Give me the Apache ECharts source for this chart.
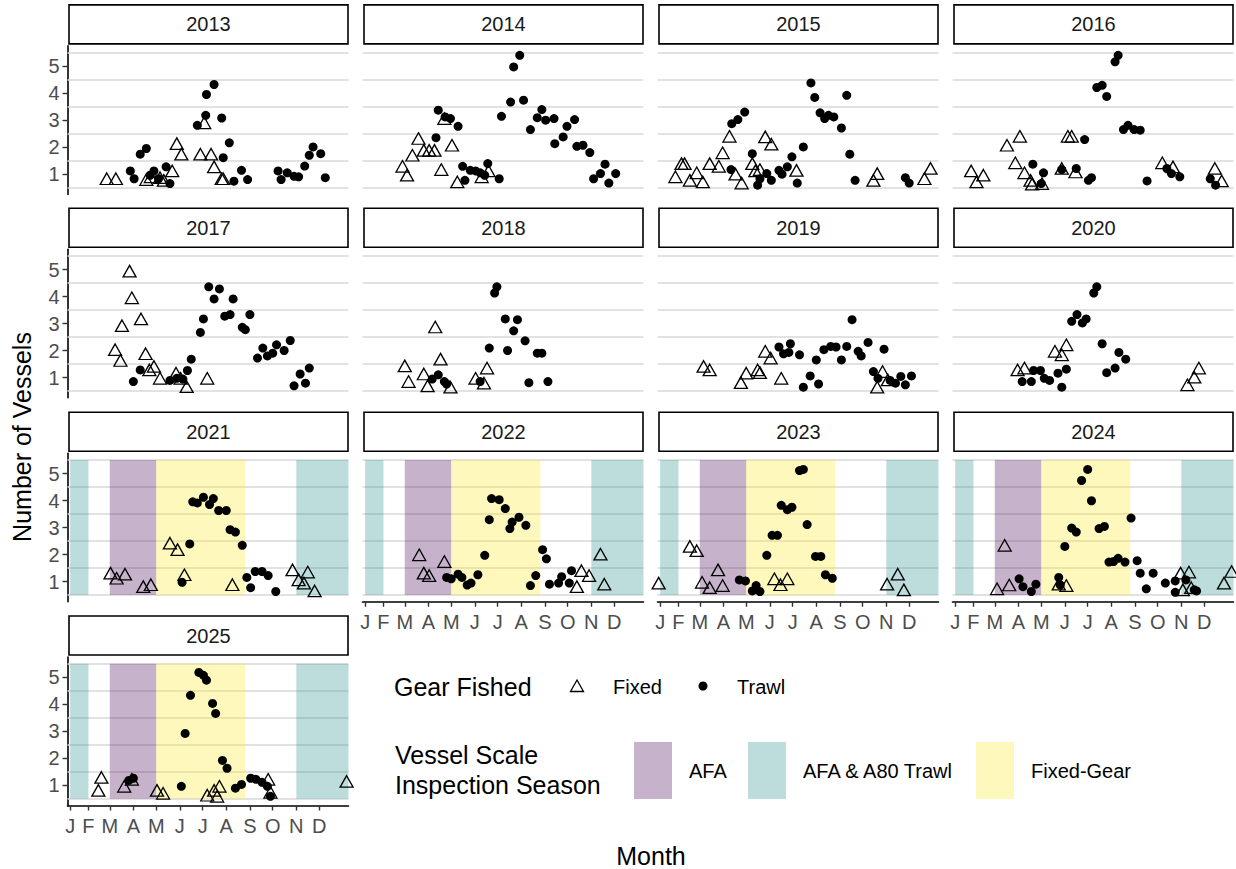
<!DOCTYPE html>
<html><head><meta charset="utf-8">
<script src="https://cdn.jsdelivr.net/npm/echarts@6/dist/echarts.min.js"></script>
<style>html,body{margin:0;padding:0;background:#fff}#c{width:1236px;height:869px}</style>
</head><body><div id="c"></div>
<script>
// ---- data: [day of year, number of vessels (jittered)] ----
const years = [2013,2014,2015,2016,2017,2018,2019,2020,2021,2022,2023,2024,2025];

const fixed_2013 = [[56,0.83],[68,0.83],[108,0.80],[114,0.90],[126,0.87],[131,0.77],[142,1.12],[148,2.13],[154,1.74],[179,1.74],[193,1.74],[184,2.90],[197,1.27],[207,0.83],[209,0.83]];
const trawl_2013 = [[87,1.12],[92,0.83],[100,1.74],[108,1.95],[113,0.96],[118,1.12],[124,0.83],[134,1.27],[139,0.65],[175,2.81],[186,3.18],[187,3.95],[197,4.32],[207,3.08],[209,1.61],[217,2.16],[223,0.74],[233,1.14],[241,0.80],[281,1.12],[285,0.80],[293,1.05],[302,0.92],[308,0.90],[316,1.30],[322,1.70],[327,2.01],[337,1.76],[343,0.87]];

const fixed_2014 = [[57,1.29],[63,0.96],[70,1.70],[78,2.32],[85,1.88],[92,1.88],[99,1.88],[108,1.17],[112,3.06],[122,2.07],[129,0.71],[161,0.90],[170,1.12]];
const trawl_2014 = [[101,2.35],[104,3.37],[113,3.12],[120,3.06],[130,2.77],[136,1.29],[139,0.77],[146,1.14],[153,1.12],[159,1.05],[165,0.96],[169,1.39],[184,0.83],[187,3.14],[199,3.67],[203,4.97],[211,5.40],[216,3.74],[225,2.65],[234,3.09],[240,3.39],[245,3.00],[256,3.06],[257,2.13],[268,2.38],[273,2.77],[283,3.02],[286,2.03],[294,2.07],[303,1.80],[308,0.83],[317,1.02],[323,1.37],[328,0.67],[337,1.02]];

const fixed_2015 = [[28,0.90],[36,1.39],[40,1.39],[47,0.77],[56,1.05],[64,0.71],[73,1.39],[85,1.29],[90,1.79],[99,2.40],[107,1.00],[115,0.67],[129,1.39],[133,1.12],[139,1.17],[146,2.38],[154,2.11],[187,1.14],[288,0.77],[293,1.02],[355,0.83],[363,1.21]];
const trawl_2015 = [[102,2.87],[110,3.02],[119,3.30],[101,1.17],[129,1.76],[136,0.59],[139,0.83],[148,1.02],[154,0.77],[164,1.14],[168,1.00],[175,1.27],[181,1.64],[188,0.67],[196,2.01],[206,4.38],[211,3.84],[218,3.27],[224,3.06],[229,3.18],[236,3.12],[246,2.71],[253,3.92],[257,1.74],[264,0.77],[330,0.87],[335,0.67]];

const fixed_2016 = [[29,1.12],[36,0.71],[45,0.96],[76,2.07],[93,2.40],[87,1.42],[99,1.05],[107,0.77],[109,0.63],[122,0.65],[148,1.21],[156,2.40],[161,2.40],[166,1.08],[280,1.42],[294,1.27],[349,1.21],[358,0.75]];
const trawl_2016 = [[110,1.37],[124,1.05],[121,0.65],[148,1.17],[167,1.21],[178,2.28],[183,0.77],[187,0.87],[194,4.21],[201,4.29],[207,3.88],[218,5.16],[222,5.40],[229,2.65],[235,2.81],[243,2.65],[251,2.63],[260,0.75],[286,1.21],[292,1.02],[303,0.90],[343,0.83],[350,0.59]];

const fixed_2017 = [[86,4.94],[89,3.95],[76,2.92],[101,3.17],[67,2.03],[74,1.63],[107,1.88],[118,1.41],[112,1.28],[126,0.97],[147,1.16],[153,0.97],[161,0.66],[188,0.97]];
const trawl_2017 = [[91,0.85],[100,1.28],[139,0.89],[148,0.97],[156,0.94],[162,1.26],[167,1.68],[179,2.67],[183,3.17],[190,4.36],[197,3.91],[204,4.28],[211,3.27],[218,3.33],[222,3.91],[234,2.86],[238,2.77],[244,3.33],[254,1.72],[261,2.09],[267,1.80],[274,1.90],[279,2.21],[289,2.00],[297,2.37],[302,0.69],[310,1.13],[317,0.79],[322,1.35]];

const fixed_2018 = [[60,1.43],[65,0.85],[85,1.13],[90,0.69],[100,2.87],[107,1.68],[120,0.64],[153,0.97],[164,0.79],[168,1.35]];
const trawl_2018 = [[96,0.94],[104,1.10],[112,0.85],[115,0.76],[159,0.85],[171,2.09],[178,4.13],[181,4.36],[192,3.17],[195,2.00],[203,2.73],[208,3.14],[218,2.36],[223,0.81],[234,1.90],[240,1.90],[248,0.85]];

const fixed_2019 = [[65,1.41],[73,1.28],[114,0.81],[121,1.16],[136,1.28],[139,1.18],[146,1.97],[153,1.72],[167,0.97],[293,0.64],[300,1.22],[307,0.91]];
const trawl_2019 = [[164,2.13],[170,1.88],[179,2.25],[177,1.93],[191,1.84],[196,0.64],[205,1.06],[213,1.65],[216,0.76],[223,2.03],[232,2.15],[239,2.13],[246,1.65],[253,2.15],[260,3.14],[268,1.97],[272,1.80],[281,2.30],[288,1.22],[294,0.97],[302,2.05],[310,0.89],[317,0.79],[324,1.04],[330,0.73],[338,1.06]];

const fixed_2020 = [[90,1.28],[99,1.35],[139,1.97],[148,1.84],[154,2.21],[313,0.73],[322,1.01],[328,1.35]];
const trawl_2020 = [[96,0.85],[108,0.85],[111,1.26],[120,1.26],[125,0.97],[132,0.89],[143,1.16],[148,0.64],[154,1.31],[161,3.08],[168,3.33],[175,3.02],[180,3.17],[190,4.13],[194,4.36],[201,2.25],[207,1.18],[218,1.35],[223,1.93],[232,1.68]];

const fixed_2021 = [[61,1.31],[69,1.12],[80,1.27],[104,0.81],[114,0.88],[139,2.42],[149,2.18],[158,1.25],[221,0.88],[300,1.43],[308,1.06],[315,0.94],[320,1.35],[329,0.65]];
const trawl_2021 = [[155,0.97],[165,2.39],[169,3.95],[175,3.91],[183,4.12],[191,3.85],[196,4.07],[203,3.63],[213,3.63],[218,2.92],[225,2.83],[234,2.34],[240,1.15],[245,0.77],[251,1.37],[260,1.37],[268,1.22],[278,0.63]];

const fixed_2022 = [[79,1.99],[85,1.31],[92,1.22],[112,1.74],[292,1.40],[302,1.22],[286,0.81],[317,2.01],[322,0.90]];
const trawl_2022 = [[115,1.15],[121,1.10],[130,1.27],[135,1.15],[142,0.87],[147,0.94],[156,1.25],[165,1.97],[171,3.29],[174,4.07],[184,4.03],[192,3.70],[198,2.96],[201,3.20],[210,3.38],[219,3.08],[225,0.85],[232,1.22],[241,2.18],[246,1.84],[250,0.90],[262,0.94],[266,1.18],[276,0.94],[279,1.40]];

const fixed_2023 = [[6,0.94],[47,2.30],[56,2.14],[63,0.97],[73,0.77],[84,1.43],[90,0.85],[158,1.10],[166,0.88],[175,1.10],[306,0.90],[320,1.27],[328,0.69]];
const trawl_2023 = [[112,1.06],[120,1.02],[129,0.65],[134,0.85],[139,0.63],[148,1.97],[155,2.71],[162,2.71],[167,3.82],[175,3.66],[181,3.75],[191,5.11],[196,5.15],[201,3.11],[212,1.93],[219,1.93],[225,1.25],[234,1.12]];

const fixed_2024 = [[63,0.73],[73,2.34],[79,0.87],[144,0.90],[154,0.85],[304,1.31],[315,1.35],[307,0.69],[318,0.77],[361,0.94],[371,1.37]];
const trawl_2024 = [[92,1.10],[97,0.81],[108,0.63],[114,0.90],[144,1.15],[146,0.87],[152,2.30],[161,2.98],[167,2.83],[174,4.74],[182,5.15],[187,3.99],[197,2.96],[204,3.04],[210,1.72],[216,1.74],[222,1.86],[231,1.72],[239,3.35],[247,1.77],[251,1.31],[259,0.73],[268,1.31],[284,0.94],[297,1.02],[297,0.60],[311,1.06],[322,0.69],[325,0.65]];

const fixed_2025 = [[49,1.29],[45,0.81],[79,0.96],[89,1.22],[122,0.81],[130,0.70],[188,0.63],[197,0.81],[201,0.59],[204,0.96],[268,1.22],[271,0.74],[371,1.14]];
const trawl_2025 = [[85,1.18],[91,1.26],[154,0.96],[159,2.92],[166,4.33],[177,5.18],[183,5.07],[187,4.89],[195,4.03],[199,3.66],[208,1.92],[214,1.63],[225,0.89],[233,1.03],[245,1.26],[252,1.22],[260,1.11],[267,0.96],[271,0.59]];

// axis ticks
const monthTicks = [8,32,60,91,121,152,182,213,244,274,305,335];
const monthLabels = ['J','F','M','A','M','J','J','A','S','O','N','D'];
const yTicks = [1,2,3,4,5];
const yGridLines = [0.5,1.5,2.5,3.5,4.5,5.5];

// inspection seasons (day of year), shown 2021-2025
const seasonYears = [2021,2022,2023,2024,2025];
const seasonStart = [8,60,121,305];
const seasonEnd = [32,121,238,373.5];
const seasonName = ['AFA & A80 Trawl','AFA','Fixed-Gear','AFA & A80 Trawl'];
const seasonLegend = ['AFA','AFA & A80 Trawl','Fixed-Gear'];

// ---- build ----
const fixedByYear = [fixed_2013,fixed_2014,fixed_2015,fixed_2016,fixed_2017,fixed_2018,fixed_2019,fixed_2020,fixed_2021,fixed_2022,fixed_2023,fixed_2024,fixed_2025];
const trawlByYear = [trawl_2013,trawl_2014,trawl_2015,trawl_2016,trawl_2017,trawl_2018,trawl_2019,trawl_2020,trawl_2021,trawl_2022,trawl_2023,trawl_2024,trawl_2025];
const seasonColor = {'AFA':'rgba(68,1,84,0.3)','AFA & A80 Trawl':'rgba(33,144,140,0.3)','Fixed-Gear':'rgba(253,231,37,0.3)'};

const FONT = 'Liberation Sans, Arial, sans-serif';
const lefts = [67.5,362.5,657.5,952.5];
const tops = [45.9,249.25,453.25,657];
const W = 281, H = 148.5;
const XMIN = 4.5, XMAX = 373.5, YMIN = 0.25, YMAX = 5.75;

const grids = [], xAxes = [], yAxes = [], series = [], graphics = [];
const nYears = years.length;
years.forEach((yr, i) => {
  const r = Math.floor(i / 4), c = i % 4;
  const bottom = (i + 4 >= nYears);
  grids.push({left: lefts[c], top: tops[r], width: W, height: H, containLabel: false});
  xAxes.push({
    gridIndex: i, type: 'value', min: XMIN, max: XMAX,
    axisLine: {show: bottom, onZero: false, lineStyle: {color: '#000', width: 1.6}},
    axisTick: {show: bottom, length: 5, customValues: monthTicks, lineStyle: {color: '#333', width: 1.4}},
    axisLabel: {show: bottom, customValues: monthTicks, margin: 10, fontSize: 20, color: '#4d4d4d', fontFamily: FONT,
      formatter: v => monthLabels[monthTicks.indexOf(Math.round(v))] || ''},
    splitLine: {show: false}
  });
  yAxes.push({
    gridIndex: i, type: 'value', min: YMIN, max: YMAX,
    axisLine: {show: c === 0, onZero: false, lineStyle: {color: '#000', width: 1.6}},
    axisTick: {show: c === 0, length: 5, customValues: yTicks, lineStyle: {color: '#333', width: 1.4}},
    axisLabel: {show: c === 0, customValues: yTicks, margin: 8, fontSize: 20, color: '#4d4d4d', fontFamily: FONT},
    splitLine: {show: false}
  });
  const hasSeason = seasonYears.indexOf(yr) >= 0;
  series.push({
    type: 'scatter', name: 'Fixed', xAxisIndex: i, yAxisIndex: i, z: 3,
    data: fixedByYear[i], symbol: 'triangle', symbolSize: [13, 11.5],
    itemStyle: {color: 'rgba(255,255,255,0)', borderColor: '#000', borderWidth: 1.3, opacity: 1},
    emphasis: {disabled: true}, silent: true, animation: false,
    markLine: {
      silent: true, z: 1, animation: false, symbol: ['none','none'], label: {show: false},
      lineStyle: {color: '#d9d9d9', width: 1.6, type: 'solid'}, emphasis: {disabled: true},
      data: yGridLines.map(v => ({yAxis: v}))
    }
  });
  series.push({
    type: 'scatter', name: 'Trawl', xAxisIndex: i, yAxisIndex: i, z: 3,
    data: trawlByYear[i], symbol: 'circle', symbolSize: 9,
    itemStyle: {color: '#000', opacity: 1}, emphasis: {disabled: true}, silent: true, animation: false,
    markArea: hasSeason ? {
      silent: true, z: 2, animation: false, emphasis: {disabled: true}, label: {show: false},
      data: seasonStart.map((s, k) => [
        {xAxis: s, yAxis: 0.5, itemStyle: {color: seasonColor[seasonName[k]], borderWidth: 0}},
        {xAxis: seasonEnd[k], yAxis: 5.5}
      ])
    } : undefined
  });
  // facet strip
  graphics.push({type: 'rect', z: 10, shape: {x: lefts[c] + 1.5, y: tops[r] - 41, width: W - 2, height: 39},
    style: {fill: '#fff', stroke: '#000', lineWidth: 1.6}});
  graphics.push({type: 'text', z: 11, x: lefts[c] + 1.5 + (W - 2) / 2, y: tops[r] - 21.5,
    style: {text: String(yr), align: 'center', verticalAlign: 'middle', fontSize: 20, fontFamily: FONT, fill: '#1a1a1a'}});
});

// axis titles
graphics.push({type: 'text', x: 22, y: 437, rotation: Math.PI / 2,
  style: {text: 'Number of Vessels', align: 'center', verticalAlign: 'middle', fontSize: 25, fontFamily: FONT, fill: '#000'}});
graphics.push({type: 'text', x: 651, y: 856,
  style: {text: 'Month', align: 'center', verticalAlign: 'middle', fontSize: 25, fontFamily: FONT, fill: '#000'}});

// legend: gear
graphics.push({type: 'text', x: 394, y: 687, style: {text: 'Gear Fished', verticalAlign: 'middle', fontSize: 25, fontFamily: FONT, fill: '#000'}});
graphics.push({type: 'polygon', shape: {points: [[577, 680], [583.5, 691.5], [570.5, 691.5]]}, style: {fill: 'none', stroke: '#000', lineWidth: 1.3}});
graphics.push({type: 'text', x: 613, y: 687, style: {text: 'Fixed', verticalAlign: 'middle', fontSize: 20, fontFamily: FONT, fill: '#000'}});
graphics.push({type: 'circle', shape: {cx: 703, cy: 686, r: 4.5}, style: {fill: '#000'}});
graphics.push({type: 'text', x: 737, y: 687, style: {text: 'Trawl', verticalAlign: 'middle', fontSize: 20, fontFamily: FONT, fill: '#000'}});
// legend: seasons
graphics.push({type: 'text', x: 395, y: 755, style: {text: 'Vessel Scale', verticalAlign: 'middle', fontSize: 25, fontFamily: FONT, fill: '#000'}});
graphics.push({type: 'text', x: 395, y: 785, style: {text: 'Inspection Season', verticalAlign: 'middle', fontSize: 25, fontFamily: FONT, fill: '#000'}});
const keyX = [634, 748, 976], textX = [689, 803, 1031];
seasonLegend.forEach((nm, k) => {
  graphics.push({type: 'rect', shape: {x: keyX[k], y: 742, width: 38, height: 57}, style: {fill: seasonColor[nm]}});
  graphics.push({type: 'text', x: textX[k], y: 771, style: {text: nm, verticalAlign: 'middle', fontSize: 20, fontFamily: FONT, fill: '#000'}});
});

const chart = echarts.init(document.getElementById('c'), null, {renderer: 'svg', width: 1236, height: 869});
chart.setOption({
  animation: false, backgroundColor: '#fff',
  grid: grids, xAxis: xAxes, yAxis: yAxes, series: series, graphic: graphics
});
</script></body></html>
